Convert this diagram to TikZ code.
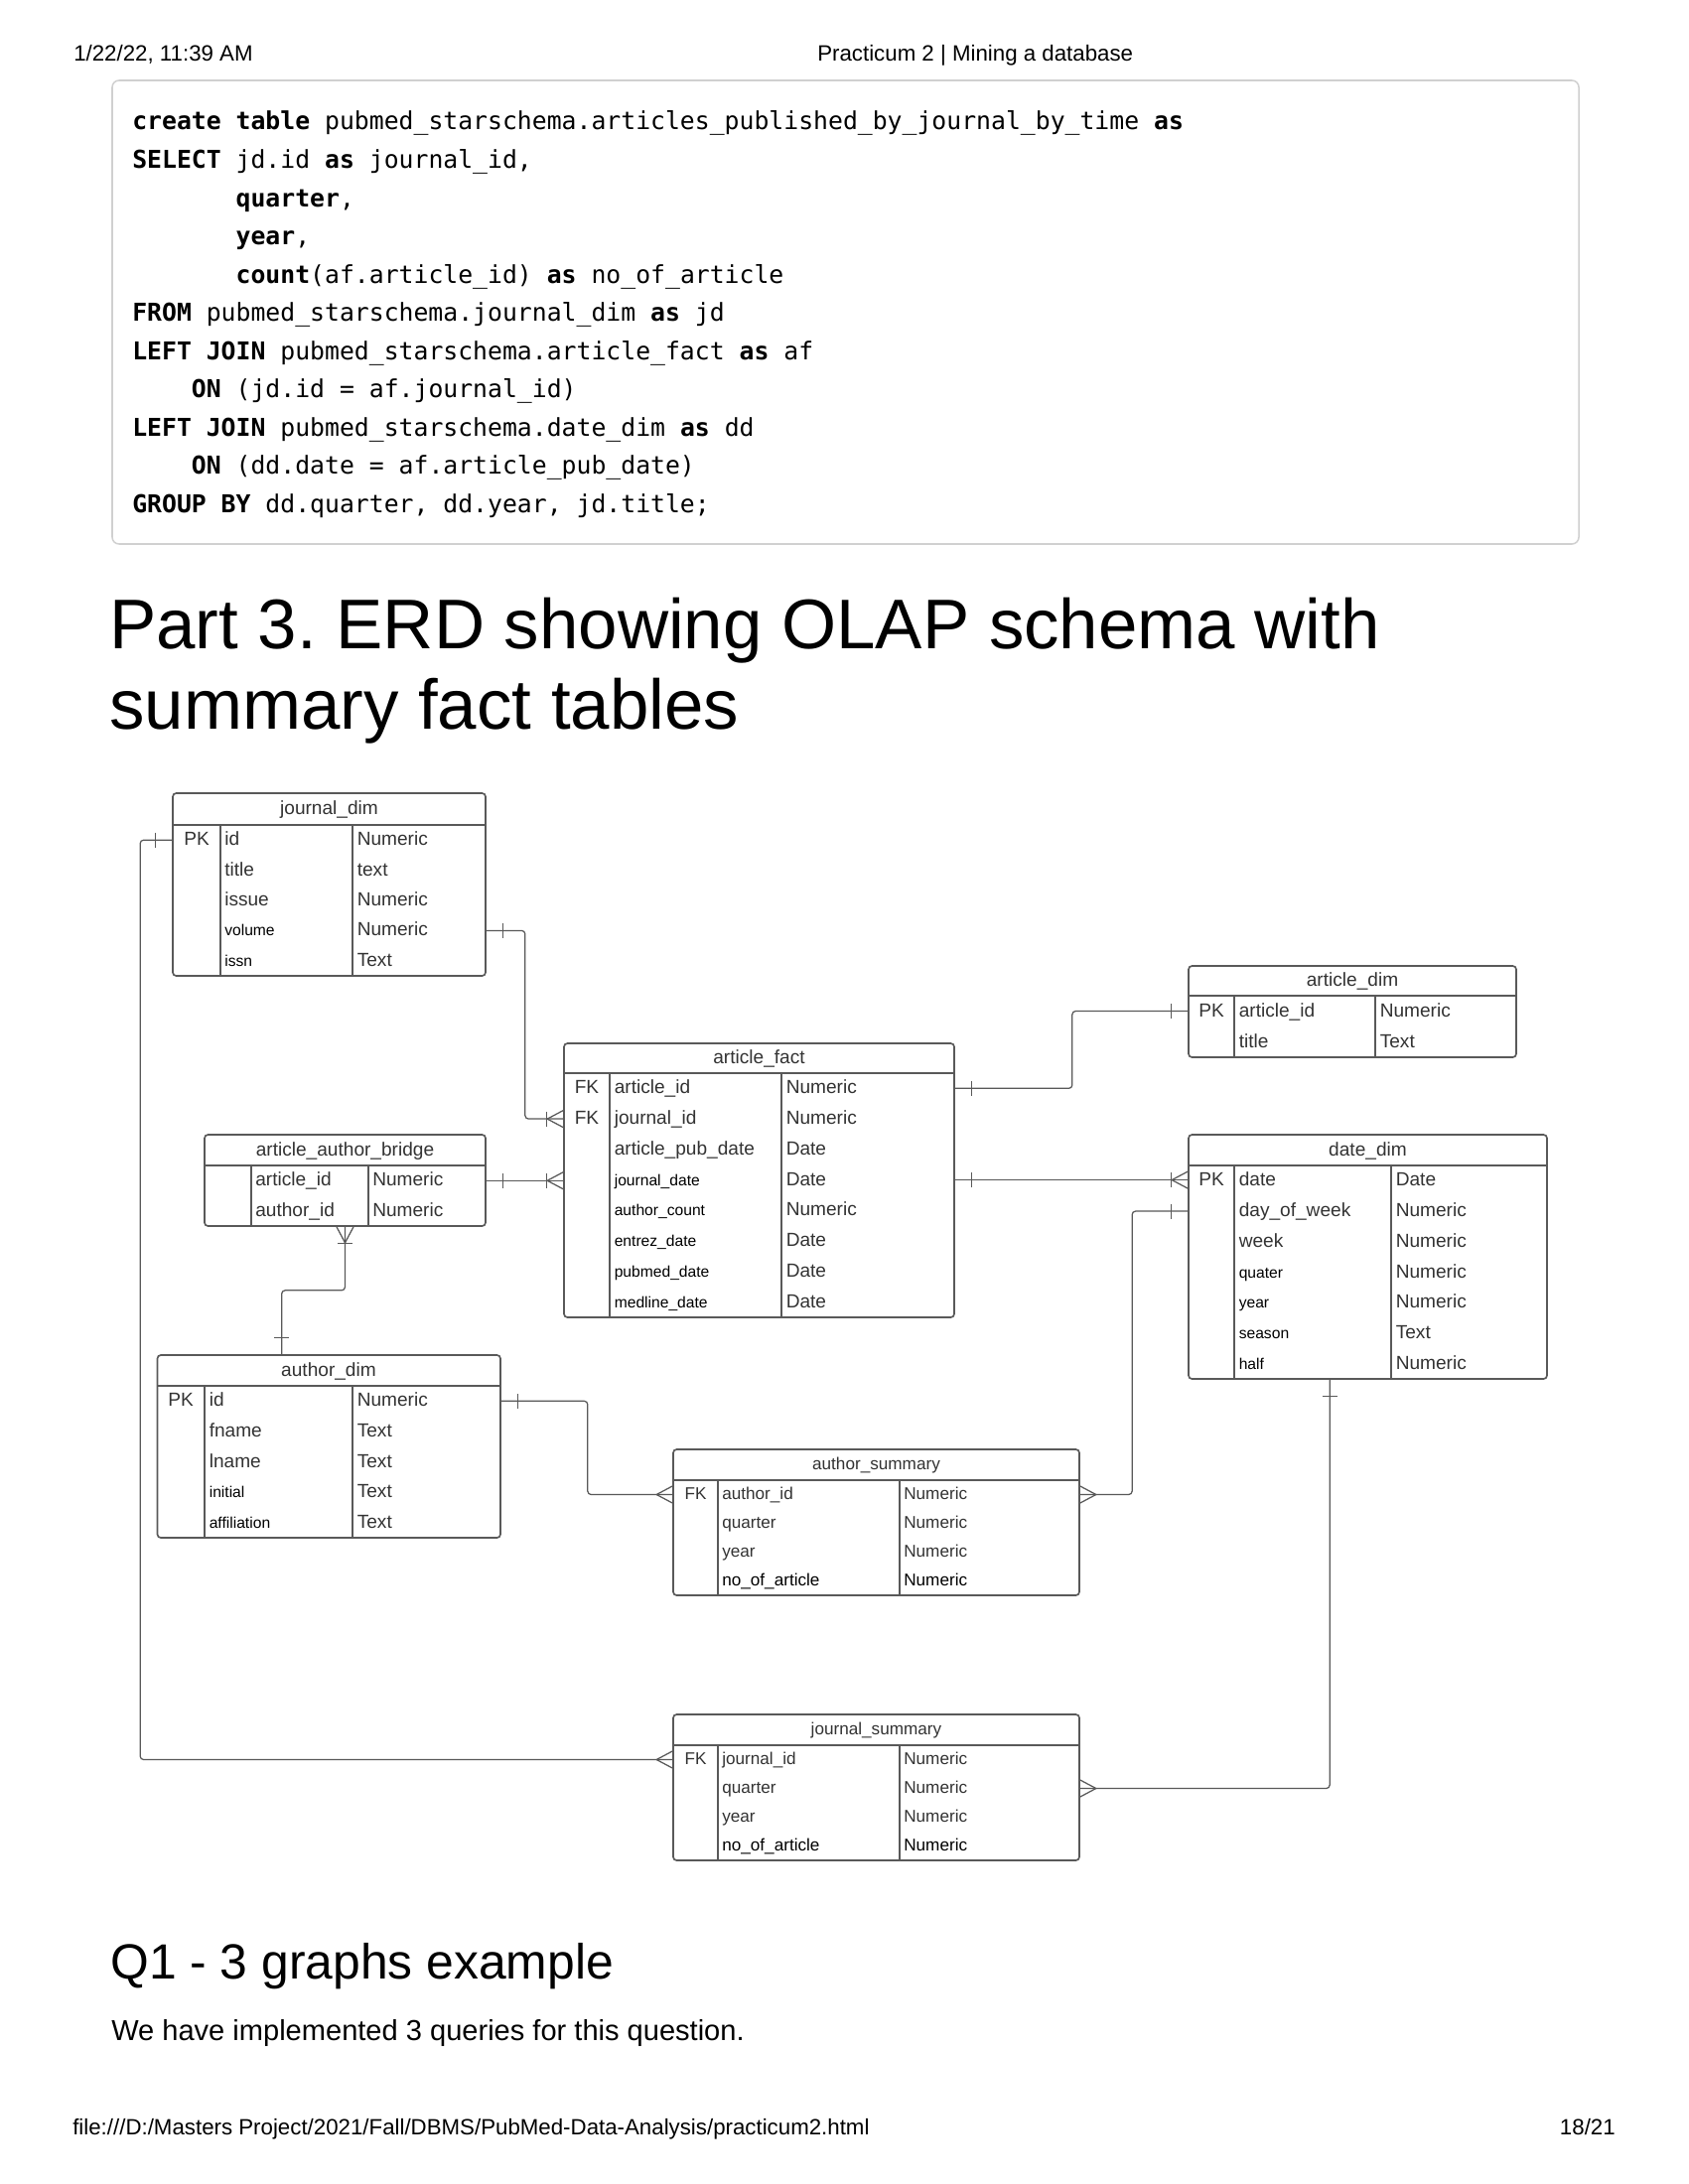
\documentclass[tikz,border=0pt]{standalone}
\usepackage{fontspec}
\setmainfont{Liberation Sans}
\setmonofont{DejaVu Sans Mono}
\usepackage{tikz}
\usetikzlibrary{fit,calc}

\definecolor{erdline}{HTML}{595959}
\definecolor{erdtext}{HTML}{333333}
\definecolor{boxline}{HTML}{D0D0D0}

\newcommand{\sm}[1]{{\fontsize{11.3}{13}\selectfont\color{black}#1}}
\newcommand{\dk}[1]{{\color{black}#1}}
\newcommand{\kw}[1]{\textbf{#1}}
\frenchspacing

\begin{document}
\begin{tikzpicture}[x=0.254mm, y=-0.254mm,
	tbl/.style={draw=erdline, line width=1.2pt, rounded corners=2.5pt, inner sep=0pt},
	tblline/.style={draw=erdline, line width=1.2pt},
	conn/.style={draw=erdline, line width=0.9pt, rounded corners=2.5pt},
	erdfont/.style={font=\fontsize{13.8}{16}\selectfont, text=erdtext, inner sep=0pt, text height=8pt, text depth=0pt},
	sumfont/.style={font=\fontsize{12.4}{15}\selectfont, text=erdtext, inner sep=0pt, text height=7.5pt, text depth=0pt},
	field/.style={anchor=west},
	page/.style={anchor=base west, inner sep=0pt},
	hdr/.style={page, font=\fontsize{16.1}{19}\selectfont},
	code/.style={anchor=base west, inner sep=0pt, font=\ttfamily\fontsize{17.9}{20}\selectfont},
	crowfoot/.pic={\draw[erdline, line width=0.9pt] (0,-8.5) -- (-16,0) -- (0,8.5);},
	onebar/.pic={\draw[erdline, line width=0.9pt] (-17,-7.5) -- (-17,7.5);}]
	\useasboundingbox (0,0) rectangle (1700,2200);
	\fill[white] (0,0) rectangle (1700,2200);
	%\draw [help lines] (0,0) grid (1700,2200);

	% page header and footer
	\node[hdr] (datetime) at (74,62) {1/22/22, 11:39 AM};
	\node[hdr] (pagetitle) at (823,62) {Practicum 2 | Mining a database};
	\node[hdr] (fileurl) at (73,2150) {file:///D:/Masters Project/2021/Fall/DBMS/PubMed-Data-Analysis/practicum2.html};
	\node[hdr, anchor=base east] (pagenum) at (1627,2150) {18/21};

	% sql block
	\node[draw=boxline, line width=1.1pt, rounded corners=5pt, inner sep=0pt, fit={(113,81) (1590,548)}] (codebox) {};
	\foreach \ln [count=\i] in {
		{\kw{create table} pubmed\_starschema.articles\_published\_by\_journal\_by\_time \kw{as}},
		{\kw{SELECT} jd.id \kw{as} journal\_id,},
		{\phantom{xxxxxxx}\kw{quarter},},
		{\phantom{xxxxxxx}\kw{year},},
		{\phantom{xxxxxxx}\kw{count}(af.article\_id) \kw{as} no\_of\_article},
		{\kw{FROM} pubmed\_starschema.journal\_dim \kw{as} jd},
		{\kw{LEFT JOIN} pubmed\_starschema.article\_fact \kw{as} af},
		{\phantom{xxxx}\kw{ON} (jd.id = af.journal\_id)},
		{\kw{LEFT JOIN} pubmed\_starschema.date\_dim \kw{as} dd},
		{\phantom{xxxx}\kw{ON} (dd.date = af.article\_pub\_date)},
		{\kw{GROUP BY} dd.quarter, dd.year, jd.title;}}
		\node[code] (code\i) at (133,{131+38.5*(\i-1)}) {\ln};

	% headings
	\node[page, font=\fontsize{51.2}{56}\selectfont] (part3a) at (110,653) {Part 3. ERD showing OLAP schema with};
	\node[page, font=\fontsize{51.2}{56}\selectfont] (part3b) at (110,734) {summary fact tables};
	\node[page, font=\fontsize{36}{40}\selectfont] (q1) at (111,1993) {Q1 - 3 graphs example};
	\node[page, font=\fontsize{21}{25}\selectfont] (q1text) at (112,2055) {We have implemented 3 queries for this question.};

	% journal_dim
	\node[tbl, fit={(174,799) (489,983)}] (jd) {};
	\draw[tblline] (174,831) -- (489,831) (221.7,831) -- (221.7,983) (355,831) -- (355,983);
	\node[erdfont] (jd-ttl) at (331.5,815) {journal\_dim};
	\node[erdfont] (jd-pk) at (198,846.2) {PK};
	\foreach \nm/\ty [count=\i] in {id/Numeric, title/text, issue/Numeric, \sm{volume}/Numeric, \sm{issn}/Text}
		{\node[erdfont, field] (jd-n\i) at (226,{831+30.4*\i-15.2}) {\nm};
		 \node[erdfont, field] (jd-t\i) at (359.5,{831+30.4*\i-15.2}) {\ty};}

	% article_dim
	\node[tbl, fit={(1197,973) (1527,1065)}] (ad) {};
	\draw[tblline] (1197,1003) -- (1527,1003) (1243,1003) -- (1243,1065) (1385,1003) -- (1385,1065);
	\node[erdfont] (ad-ttl) at (1362,988) {article\_dim};
	\node[erdfont] (ad-pk) at (1220,1018.5) {PK};
	\foreach \nm/\ty [count=\i] in {article\_id/Numeric, title/Text}
		{\node[erdfont, field] (ad-n\i) at (1247.5,{1003+31*\i-15.5}) {\nm};
		 \node[erdfont, field] (ad-t\i) at (1389.5,{1003+31*\i-15.5}) {\ty};}

	% article_fact
	\node[tbl, fit={(568,1051) (961,1327)}] (af) {};
	\draw[tblline] (568,1081) -- (961,1081) (614,1081) -- (614,1327) (787,1081) -- (787,1327);
	\node[erdfont] (af-ttl) at (764.5,1066) {article\_fact};
	\node[erdfont] (af-fk1) at (591,1096.4) {FK};
	\node[erdfont] (af-fk2) at (591,1127.1) {FK};
	\foreach \nm/\ty [count=\i] in {article\_id/Numeric, journal\_id/Numeric, article\_pub\_date/Date,
		\sm{journal\_date}/Date, \sm{author\_count}/Numeric, \sm{entrez\_date}/Date,
		\sm{pubmed\_date}/Date, \sm{medline\_date}/Date}
		{\node[erdfont, field] (af-n\i) at (618.5,{1081+30.75*\i-15.4}) {\nm};
		 \node[erdfont, field] (af-t\i) at (791.5,{1081+30.75*\i-15.4}) {\ty};}

	% article_author_bridge
	\node[tbl, fit={(206,1143) (489,1235)}] (ab) {};
	\draw[tblline] (206,1174) -- (489,1174) (252.7,1174) -- (252.7,1235) (370.7,1174) -- (370.7,1235);
	\node[erdfont] (ab-ttl) at (347.5,1158.5) {article\_author\_bridge};
	\foreach \nm/\ty [count=\i] in {article\_id/Numeric, author\_id/Numeric}
		{\node[erdfont, field] (ab-n\i) at (257,{1174+30.5*\i-15.25}) {\nm};
		 \node[erdfont, field] (ab-t\i) at (375,{1174+30.5*\i-15.25}) {\ty};}

	% date_dim
	\node[tbl, fit={(1197,1143) (1558,1389)}] (dd) {};
	\draw[tblline] (1197,1174) -- (1558,1174) (1243,1174) -- (1243,1389) (1401,1174) -- (1401,1389);
	\node[erdfont] (dd-ttl) at (1377.5,1158.5) {date\_dim};
	\node[erdfont] (dd-pk) at (1220,1189.4) {PK};
	\foreach \nm/\ty [count=\i] in {date/Date, day\_of\_week/Numeric, week/Numeric, \sm{quater}/Numeric,
		\sm{year}/Numeric, \sm{season}/Text, \sm{half}/Numeric}
		{\node[erdfont, field] (dd-n\i) at (1247.5,{1174+30.7*\i-15.35}) {\nm};
		 \node[erdfont, field] (dd-t\i) at (1405.5,{1174+30.7*\i-15.35}) {\ty};}

	% author_dim
	\node[tbl, fit={(158.5,1365) (504,1549)}] (au) {};
	\draw[tblline] (158.5,1396) -- (504,1396) (206,1396) -- (206,1549) (355,1396) -- (355,1549);
	\node[erdfont] (au-ttl) at (331,1380.5) {author\_dim};
	\node[erdfont] (au-pk) at (182,1411.3) {PK};
	\foreach \nm/\ty [count=\i] in {id/Numeric, fname/Text, lname/Text, \sm{initial}/Text, \sm{affiliation}/Text}
		{\node[erdfont, field] (au-n\i) at (210.5,{1396+30.6*\i-15.3}) {\nm};
		 \node[erdfont, field] (au-t\i) at (359.5,{1396+30.6*\i-15.3}) {\ty};}

	% author_summary
	\node[tbl, fit={(678,1460) (1087,1607)}] (as) {};
	\draw[tblline] (678,1491) -- (1087,1491) (723,1491) -- (723,1607) (906,1491) -- (906,1607);
	\node[sumfont] (as-ttl) at (882.5,1475.5) {author\_summary};
	\node[sumfont] (as-fk) at (700.5,1505.5) {FK};
	\foreach \nm/\ty [count=\i] in {author\_id/Numeric, quarter/Numeric, year/Numeric, \dk{no\_of\_article}/\dk{Numeric}}
		{\node[sumfont, field] (as-n\i) at (727,{1491+29*\i-14.5}) {\nm};
		 \node[sumfont, field] (as-t\i) at (910,{1491+29*\i-14.5}) {\ty};}

	% journal_summary
	\node[tbl, fit={(678,1727) (1087,1874)}] (js) {};
	\draw[tblline] (678,1758) -- (1087,1758) (723,1758) -- (723,1874) (906,1758) -- (906,1874);
	\node[sumfont] (js-ttl) at (882.5,1742.5) {journal\_summary};
	\node[sumfont] (js-fk) at (700.5,1772.5) {FK};
	\foreach \nm/\ty [count=\i] in {journal\_id/Numeric, quarter/Numeric, year/Numeric, \dk{no\_of\_article}/\dk{Numeric}}
		{\node[sumfont, field] (js-n\i) at (727,{1758+29*\i-14.5}) {\nm};
		 \node[sumfont, field] (js-t\i) at (910,{1758+29*\i-14.5}) {\ty};}

	% relationships
	\draw[conn] (jd.west |- jd-n1) -- ++(-32,0) |- (js.west |- js-n1);
	\pic at (jd.west |- jd-n1) {onebar};
	\pic at (js.west |- js-n1) {crowfoot};

	\draw[conn] (jd.east |- jd-n4) -- ++(39,0) |- (af.west |- af-n2);
	\pic[rotate=180] at (jd.east |- jd-n4) {onebar};
	\pic at (af.west |- af-n2) {crowfoot};
	\pic at (af.west |- af-n2) {onebar};

	\draw[conn] (ab.east |- ab-n1) -- (af.west |- ab-n1);
	\pic[rotate=180] at (ab.east |- ab-n1) {onebar};
	\pic at (af.west |- ab-n1) {crowfoot};
	\pic at (af.west |- ab-n1) {onebar};

	\draw[conn] (ab.south) -- ++(0,64) -| ($(au.north west)+(126,0)$);
	\pic[rotate=90] at (ab.south) {crowfoot};
	\pic[rotate=90] at (ab.south) {onebar};
	\pic[rotate=-90] at ($(au.north west)+(126,0)$) {onebar};

	\draw[conn] (af.east |- af-n1) -- ++(118,0) |- (ad.west |- ad-n1);
	\pic[rotate=180] at (af.east |- af-n1) {onebar};
	\pic at (ad.west |- ad-n1) {onebar};

	\draw[conn] (af.east |- af-n4) -- (dd.west |- af-n4);
	\pic[rotate=180] at (af.east |- af-n4) {onebar};
	\pic at (dd.west |- af-n4) {crowfoot};
	\pic at (dd.west |- af-n4) {onebar};

	\draw[conn] (dd.west |- dd-n2) -- ++(-56,0) |- (as.east |- as-n1);
	\pic at (dd.west |- dd-n2) {onebar};
	\pic[rotate=180] at (as.east |- as-n1) {crowfoot};

	\draw[conn] ($(dd.south west)+(143,0)$) |- (js.east |- js-n2);
	\pic[rotate=90] at ($(dd.south west)+(143,0)$) {onebar};
	\pic[rotate=180] at (js.east |- js-n2) {crowfoot};

	\draw[conn] (au.east |- au-n1) -- ++(87,0) |- (as.west |- as-n1);
	\pic[rotate=180] at (au.east |- au-n1) {onebar};
	\pic at (as.west |- as-n1) {crowfoot};
\end{tikzpicture}
\end{document}
